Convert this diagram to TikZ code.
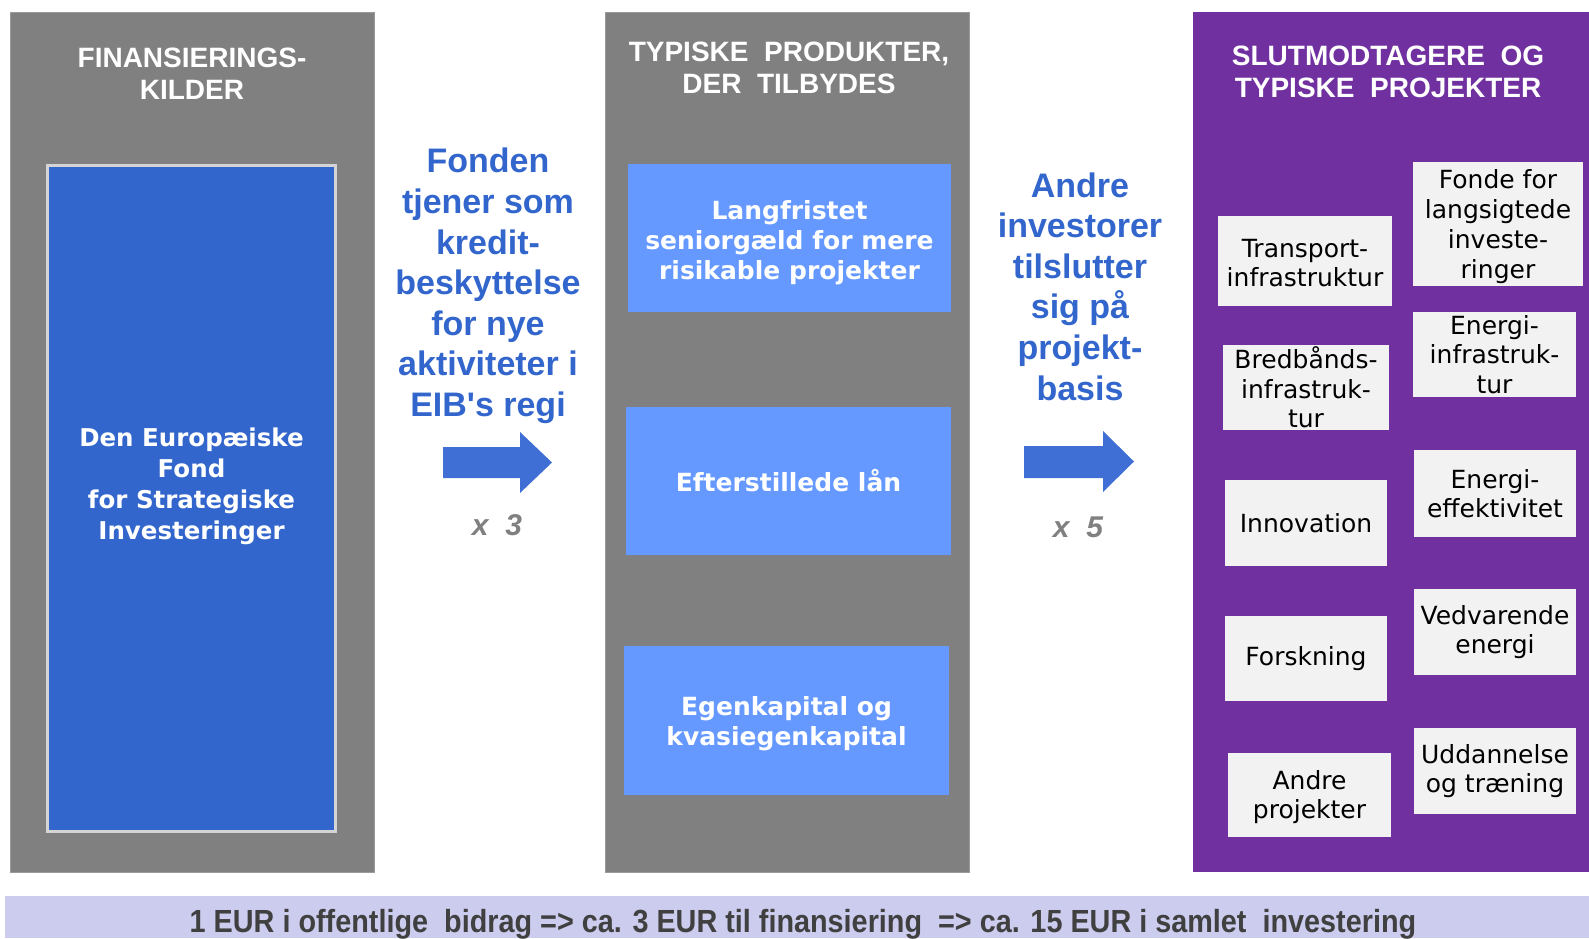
\documentclass[tikz,border=0pt]{standalone}
\usepackage{fontspec}
\setmainfont{Liberation Sans}
\newfontfamily\dejavu{DejaVu Sans}
\newfontfamily\narrowfont[FakeStretch=0.9]{Liberation Sans}
\definecolor{panelgray}{HTML}{808080}
\definecolor{paneledge}{HTML}{9A9A9A}
\definecolor{fundblue}{HTML}{3366CC}
\definecolor{fundedge}{HTML}{D4D4D4}
\definecolor{prodblue}{HTML}{6699FF}
\definecolor{eibpurple}{HTML}{7030A0}
\definecolor{itemgray}{HTML}{F2F2F2}
\definecolor{barlav}{HTML}{CCCCEE}
\definecolor{textblue}{HTML}{3366CC}
\definecolor{arrowblue}{HTML}{3F6FD5}
\definecolor{bartext}{HTML}{404040}
\definecolor{multgray}{HTML}{808080}
\begin{document}
\begin{tikzpicture}[x=1pt,y=-1pt,
  blk/.style={rectangle, inner sep=0pt, outer sep=0pt, align=center},
  panel/.style={blk, minimum height=860},
  hdr/.style={blk, text=white, font=\bfseries\fontsize{28}{32}\selectfont},
  bluetxt/.style={blk, text=textblue, font=\bfseries\fontsize{34}{40.6}\selectfont},
  prod/.style={blk, fill=prodblue},
  prodtxt/.style={blk, text=white, font=\dejavu\bfseries\fontsize{25}{29.8}\selectfont},
  item/.style={blk, fill=itemgray, text=black, font=\dejavu\fontsize{25}{29.5}\selectfont},
  mult/.style={blk, text=multgray, font=\bfseries\itshape\fontsize{30}{36}\selectfont},
  bigarrow/.style={fill=arrowblue}
]
\useasboundingbox (0,0) rectangle (1589,938);

% panels
\node[panel, fill=panelgray, draw=paneledge, line width=1, minimum width=364] (srcpanel) at (192.5,442) {};
\node[panel, fill=panelgray, draw=paneledge, line width=1, minimum width=364] (prodpanel) at (787.5,442) {};
\node[panel, fill=eibpurple, minimum width=396] (recpanel) at (1391,442) {};

% headers
\node[hdr] (srchdr) at (192,73.5) {FINANSIERINGS-\\KILDER};
\node[hdr] (prodhdr) at (789,68) {TYPISKE~~PRODUKTER,\\DER~~TILBYDES};
\node[hdr] (rechdr) at (1388,72) {SLUTMODTAGERE~~OG\\TYPISKE~~PROJEKTER};

% fund
\node[blk, fill=fundblue, draw=fundedge, line width=3, minimum width=288, minimum height=666] (fund) at (191.5,498.5) {};
\node[blk, text=white, font=\dejavu\bfseries\fontsize{24.5}{31}\selectfont] (fundtxt) at (191.5,486.5) {Den Europæiske\\Fond\\for Strategiske\\Investeringer};

% products
\node[prod, minimum width=323, minimum height=148] (senior) at (789.5,238) {};
\node[prodtxt] (seniortxt) at (789.5,242.5) {Langfristet\\seniorgæld for mere\\risikable projekter};
\node[prod, minimum width=325, minimum height=148] (sublaan) at (788.5,481) {};
\node[prodtxt] (sublaantxt) at (788.5,481) {Efterstillede lån};
\node[prod, minimum width=325, minimum height=149] (equity) at (786.5,720.5) {};
\node[prodtxt] (equitytxt) at (786.5,723.5) {Egenkapital og\\kvasiegenkapital};

% recipients
\node[item, minimum width=174, minimum height=90] (transport) at (1305,261) {};
\node[item] (transporttxt) at (1305,263) {Transport-\\infrastruktur};
\node[item, minimum width=166, minimum height=85] (bredbaand) at (1306,387.5) {Bredbånds-\\infrastruk-\\tur};
\node[item, minimum width=162, minimum height=86] (innovation) at (1306,523) {Innovation};
\node[item, minimum width=162, minimum height=85] (forskning) at (1306,658.5) {Forskning};
\node[item, minimum width=163, minimum height=84] (andre) at (1309.5,795) {};
\node[item] (andretxt) at (1309.5,797) {Andre\\projekter};
\node[item, minimum width=170, minimum height=124] (fonde) at (1498,224) {};
\node[item, font=\dejavu\fontsize{25}{30}\selectfont] (fondetxt) at (1498,227) {Fonde for\\langsigtede\\investe-\\ringer};
\node[item, minimum width=163, minimum height=85] (energiinfra) at (1494.5,354.5) {Energi-\\infrastruk-\\tur};
\node[item, minimum width=162, minimum height=87] (energieff) at (1495,493.5) {Energi-\\effektivitet};
\node[item, minimum width=162, minimum height=86] (vedvarende) at (1495,632) {Vedvarende\\energi};
\node[item, minimum width=162, minimum height=86] (uddannelse) at (1495,771) {Uddannelse\\og træning};

% middle texts
\node[bluetxt] (fundnote) at (488,286) {Fonden\\tjener som\\kredit-\\beskyttelse\\for nye\\aktiviteter i\\EIB\textquotesingle s regi};
\node[bluetxt] (joinnote) at (1080,286.5) {Andre\\investorer\\tilslutter\\sig på\\projekt-\\basis};

% block arrows
\fill[bigarrow] (443,447) -- (520,447) -- (520,432) -- (552,462.5) -- (520,493) -- (520,478) -- (443,478) -- cycle;
\fill[bigarrow] (1024,446) -- (1103,446) -- (1103,431) -- (1134,461.5) -- (1103,492) -- (1103,478) -- (1024,478) -- cycle;
\node[mult] (mult1) at (497,525) {x~~3};
\node[mult] (mult2) at (1078,527) {x~~5};

% bottom bar
\node[blk, fill=barlav, minimum width=1584, minimum height=42] (bar) at (797,917) {};
\node[blk, text=bartext, font=\narrowfont\bfseries\fontsize{32}{38}\selectfont] (bartxt) at (803,924) {1 EUR i offentlige~~bidrag => ca. 3 EUR til finansiering~~=> ca. 15 EUR i samlet~~investering};
\end{tikzpicture}
\end{document}
